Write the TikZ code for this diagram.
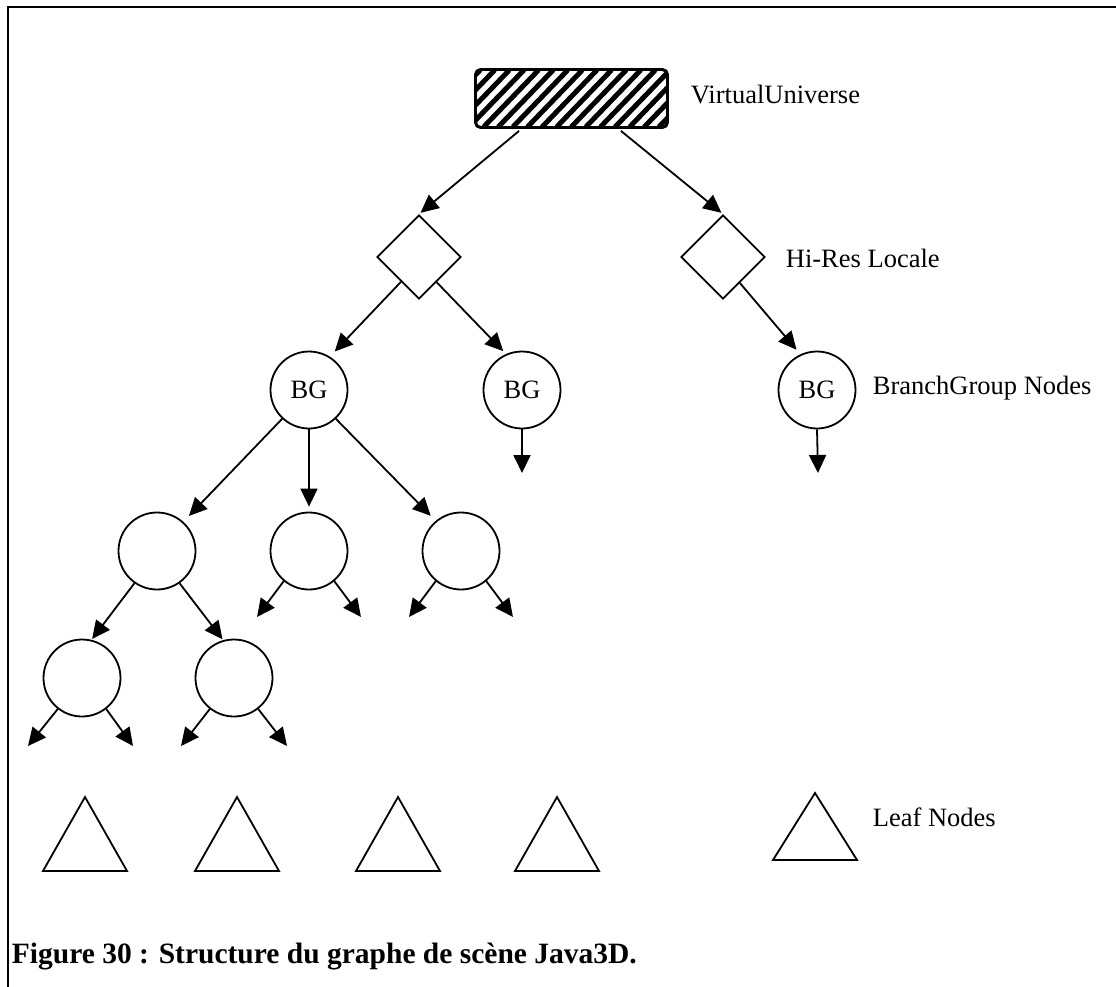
\documentclass[tikz,border=0pt]{standalone}
\usepackage{fontspec}
\setmainfont{Liberation Serif}
\usetikzlibrary{arrows.meta,shapes.geometric}
\begin{document}
\begin{tikzpicture}[x=1pt,y=-1pt,
  line width=1.8pt,
  grp/.style={circle,draw,minimum size=77pt,inner sep=0pt,font=\fontsize{26.5}{28}\selectfont},
  loc/.style={diamond,draw,minimum width=84pt,minimum height=84pt,inner sep=0pt},
  lbl/.style={anchor=west,inner sep=0pt,font=\fontsize{26.5}{28}\selectfont},
  edge/.style={-{Triangle[length=18pt,width=17pt]}}]
\useasboundingbox (0,0) rectangle (1116,987);
% frame (top and left edges)
\draw[line width=2pt] (1116,7) -- (8,7) -- (8,987);

% root: VirtualUniverse, hatched box
\node[draw,rounded corners=5pt,minimum width=191pt,minimum height=57pt,inner sep=0pt] (vu) at (571.5,98.5) {};
\begin{scope}
  \clip[rounded corners=5pt] (vu.south west) rectangle (vu.north east);
  \foreach \k in {-80,-65.4,...,200}
    \draw[line width=5pt] (476+\k,127) -- (476+\k+55,70);
\end{scope}
\draw[rounded corners=5pt] (vu.south west) rectangle (vu.north east);
\node[lbl] (vulbl) at (690,95) {VirtualUniverse};

% locales
\node[loc] (locA) at (419,257) {};
\node[loc] (locB) at (723,257) {};
\node[lbl] (loclbl) at (785,258) {Hi-Res Locale};

% branch groups
\node[grp] (bgA) at (309,390) {BG};
\node[grp] (bgB) at (522,390) {BG};
\node[grp] (bgC) at (817,390) {BG};
\node[lbl] (bglbl) at (872,388) {BranchGroup Nodes};

% group nodes
\node[grp] (gA) at (157,551) {};
\node[grp] (gB) at (309,551) {};
\node[grp] (gC) at (461,551) {};
\node[grp] (gD) at (82,678) {};
\node[grp] (gE) at (234,678) {};

% free arrow ends
\coordinate (eB) at (522,473);
\coordinate (eC) at (818,473);
\coordinate (eB1) at (257,617);
\coordinate (eB2) at (361,617);
\coordinate (eC1) at (409,617);
\coordinate (eC2) at (513,617);
\coordinate (eD1) at (28,746);
\coordinate (eD2) at (133,746);
\coordinate (eE1) at (181,746);
\coordinate (eE2) at (287,746);

% leaf nodes
\foreach \x in {85,237,398,557}
  \draw (\x-42,871) -- (\x,797) -- (\x+42,871) -- cycle;
\draw (773,860) -- (815,793) -- (857,860) -- cycle;
\node[lbl] (lflbl) at (872,817) {Leaf Nodes};

% connectors
\draw[edge,shorten >=2pt] (vu.south west) ++(44,3) -- (locA.north);
\draw[edge,shorten >=2pt] (vu.south east) ++(-47,3) -- (locB.north);
\draw[edge,shorten >=7pt] (locA.234) -- (bgA.58);
\draw[edge,shorten >=4pt] (locA.305) -- (bgB.114);
\draw[edge,shorten >=6pt] (locB.303) -- (bgC.115);
\draw[edge] (bgB.south) -- (eB);
\draw[edge] (bgC.south) -- (eC);
\draw[edge,shorten >=8pt] (bgA.227) -- (gA.48);
\draw[edge,shorten >=5pt] (bgA.south) -- (gB.north);
\draw[edge,shorten >=7pt] (bgA.313) -- (gC.130);
\draw[edge,shorten >=1pt] (gA.235) -- (gD.76);
\draw[edge,shorten >=1pt] (gA.305) -- (gE.106);
\draw[edge] (gB.230) -- (eB1);
\draw[edge] (gB.310) -- (eB2);
\draw[edge] (gC.230) -- (eC1);
\draw[edge] (gC.310) -- (eC2);
\draw[edge] (gD.232) -- (eD1);
\draw[edge] (gD.308) -- (eD2);
\draw[edge] (gE.232) -- (eE1);
\draw[edge] (gE.308) -- (eE2);

% caption
\node[anchor=base west,font=\bfseries\fontsize{29.5}{32}\selectfont,inner sep=0pt] (cap) at (11,963) {Figure 30 : Structure du graphe de scène Java3D.};
\end{tikzpicture}
\end{document}
